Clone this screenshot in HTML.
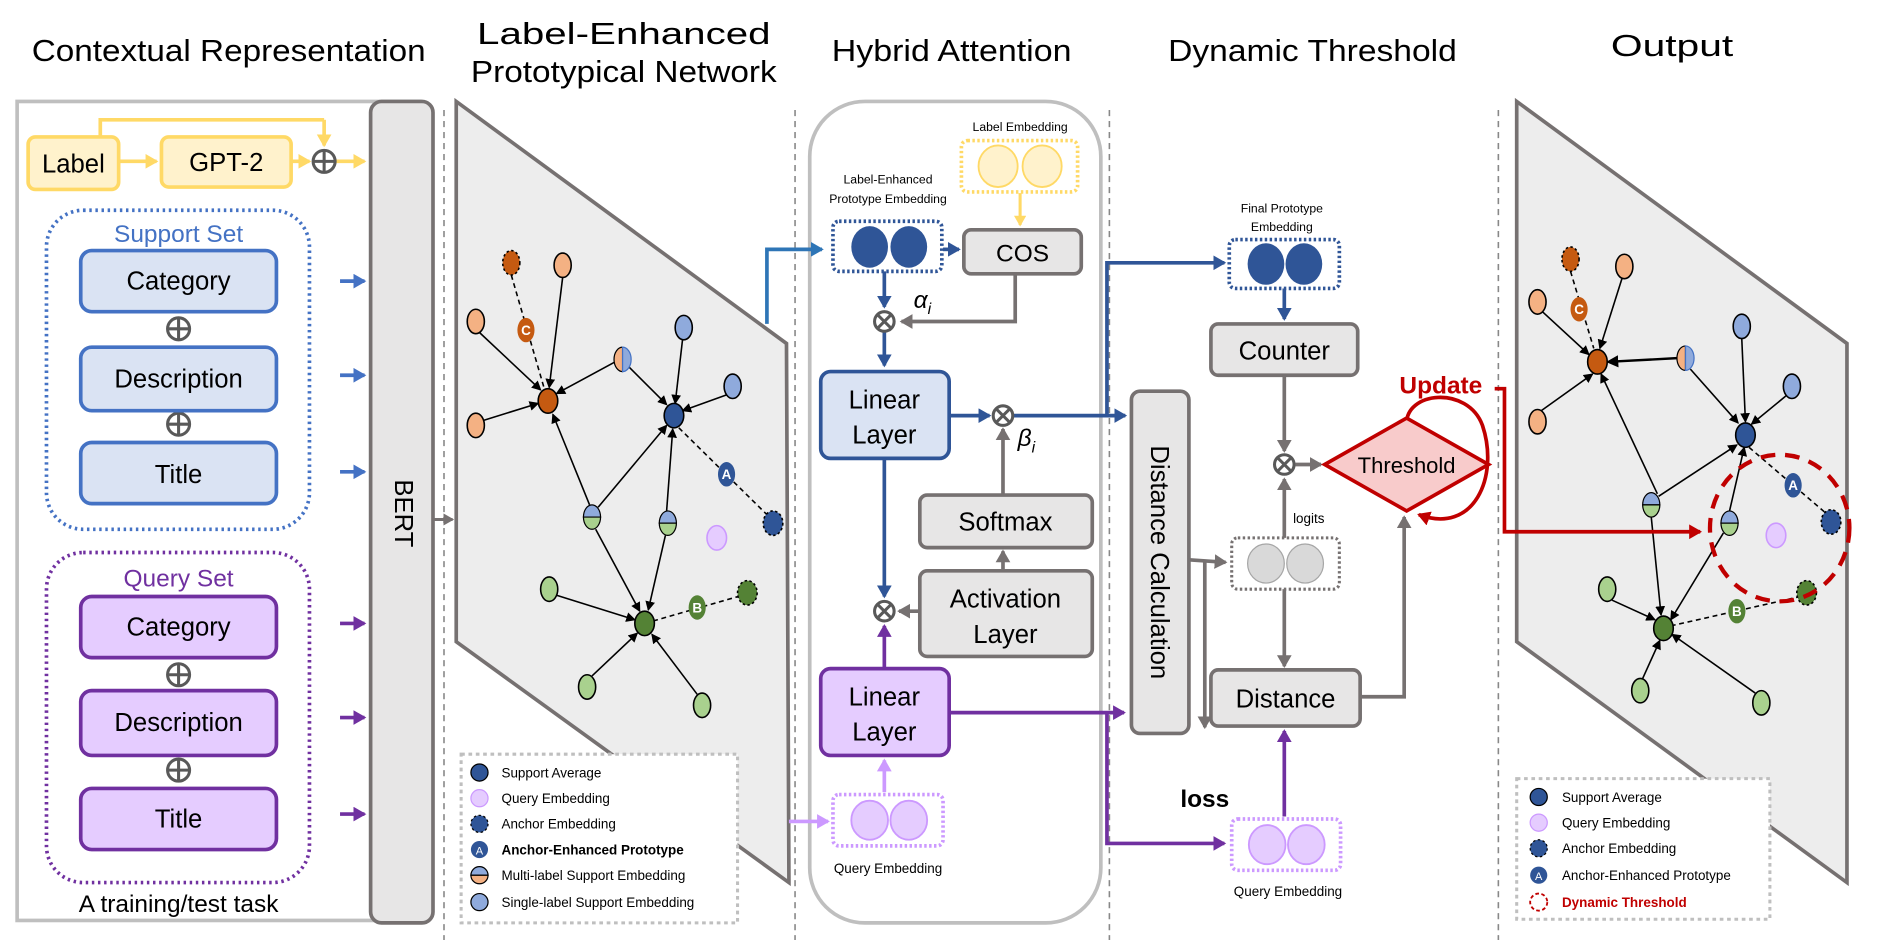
<!DOCTYPE html>
<html><head><meta charset="utf-8"><style>
html,body{margin:0;padding:0;background:#fff;width:1902px;height:940px;overflow:hidden}
svg{display:block}
text{font-family:"Liberation Sans",sans-serif}
</style></head><body>
<svg width="1902" height="940" viewBox="0 0 1555 769" preserveAspectRatio="none" xmlns="http://www.w3.org/2000/svg">
<defs>
<marker id="ab" markerWidth="5" markerHeight="5" refX="3" refY="2" orient="auto" markerUnits="strokeWidth"><path d="M0,0 L3.5,2 L0,4 z" fill="#2f5597"/></marker>
<marker id="ab2" markerWidth="5" markerHeight="5" refX="3" refY="2" orient="auto" markerUnits="strokeWidth"><path d="M0,0 L3.5,2 L0,4 z" fill="#4472c4"/></marker>
<marker id="ab3" markerWidth="5" markerHeight="5" refX="3" refY="2" orient="auto" markerUnits="strokeWidth"><path d="M0,0 L3.5,2 L0,4 z" fill="#2e75b6"/></marker>
<marker id="ag" markerWidth="5" markerHeight="5" refX="3" refY="2" orient="auto" markerUnits="strokeWidth"><path d="M0,0 L3.5,2 L0,4 z" fill="#767171"/></marker>
<marker id="ay" markerWidth="5" markerHeight="5" refX="3" refY="2" orient="auto" markerUnits="strokeWidth"><path d="M0,0 L3.5,2 L0,4 z" fill="#ffd966"/></marker>
<marker id="ap" markerWidth="5" markerHeight="5" refX="3" refY="2" orient="auto" markerUnits="strokeWidth"><path d="M0,0 L3.5,2 L0,4 z" fill="#7030a0"/></marker>
<marker id="alp" markerWidth="5" markerHeight="5" refX="3" refY="2" orient="auto" markerUnits="strokeWidth"><path d="M0,0 L3.5,2 L0,4 z" fill="#cc99ff"/></marker>
<marker id="ar" markerWidth="5" markerHeight="5" refX="3" refY="2" orient="auto" markerUnits="strokeWidth"><path d="M0,0 L3.5,2 L0,4 z" fill="#c00000"/></marker>
<marker id="ak" markerWidth="8" markerHeight="8" refX="7" refY="4" orient="auto" markerUnits="userSpaceOnUse"><path d="M0,0 L8,4 L0,8 z" fill="#000"/></marker>
<marker id="ak2" markerWidth="10" markerHeight="10" refX="8" refY="5" orient="auto" markerUnits="userSpaceOnUse"><path d="M0,0 L10,5 L0,10 z" fill="#000"/></marker>
</defs>

<g stroke="#888" stroke-width="1.3" stroke-dasharray="5,4">
<line x1="363" y1="90" x2="363" y2="769"/><line x1="650" y1="90" x2="650" y2="769"/>
<line x1="907" y1="90" x2="907" y2="769"/><line x1="1225" y1="90" x2="1225" y2="769"/>
</g>
<g font-size="25" text-anchor="middle" fill="#000">
<text x="187" y="50" textLength="322" lengthAdjust="spacingAndGlyphs">Contextual Representation</text>
<text x="510" y="36" textLength="240" lengthAdjust="spacingAndGlyphs">Label-Enhanced</text>
<text x="510" y="67" textLength="250" lengthAdjust="spacingAndGlyphs">Prototypical Network</text>
<text x="778" y="50" textLength="196" lengthAdjust="spacingAndGlyphs">Hybrid Attention</text>
<text x="1073" y="50" textLength="236" lengthAdjust="spacingAndGlyphs">Dynamic Threshold</text>
<text x="1367" y="46" textLength="100" lengthAdjust="spacingAndGlyphs">Output</text>
</g>

<rect x="14" y="83" width="329" height="670" fill="#fff" stroke="#bfbfbf" stroke-width="3"/>
<rect x="23" y="112" width="74" height="43" rx="6" fill="#fff2cc" stroke="#ffd966" stroke-width="3"/>
<text x="60" y="141" font-size="21" text-anchor="middle">Label</text>
<rect x="132" y="112" width="106" height="41" rx="6" fill="#fff2cc" stroke="#ffd966" stroke-width="3"/>
<text x="185" y="140" font-size="21" text-anchor="middle">GPT-2</text>
<line x1="97" y1="132" x2="128" y2="132" stroke="#ffd966" stroke-width="3" marker-end="url(#ay)"/>
<line x1="238" y1="132" x2="253" y2="132" stroke="#ffd966" stroke-width="3" marker-end="url(#ay)"/>
<polyline points="82,112 82,98 265,98" fill="none" stroke="#ffd966" stroke-width="3"/>
<line x1="265" y1="98" x2="265" y2="119" stroke="#ffd966" stroke-width="3" marker-end="url(#ay)"/>
<line x1="274" y1="132" x2="298" y2="132" stroke="#ffd966" stroke-width="3" marker-end="url(#ay)"/>

<g fill="none" stroke="#595959" stroke-width="2.5">
<circle cx="265" cy="132" r="9"/><line x1="256" y1="132" x2="274" y2="132"/><line x1="265" y1="123" x2="265" y2="141"/>
<circle cx="146" cy="269" r="9"/><line x1="137" y1="269" x2="155" y2="269"/><line x1="146" y1="260" x2="146" y2="278"/>
<circle cx="146" cy="347" r="9"/><line x1="137" y1="347" x2="155" y2="347"/><line x1="146" y1="338" x2="146" y2="356"/>
<circle cx="146" cy="552" r="9"/><line x1="137" y1="552" x2="155" y2="552"/><line x1="146" y1="543" x2="146" y2="561"/>
<circle cx="146" cy="630" r="9"/><line x1="137" y1="630" x2="155" y2="630"/><line x1="146" y1="621" x2="146" y2="639"/>
</g>

<rect x="38" y="172" width="215" height="261" rx="30" fill="none" stroke="#4472c4" stroke-width="3" stroke-dasharray="2,3"/>
<text x="146" y="198" font-size="20" fill="#4472c4" text-anchor="middle">Support Set</text>
<g fill="#dae3f3" stroke="#4472c4" stroke-width="3">
<rect x="66" y="205" width="160" height="50" rx="9"/><rect x="66" y="284" width="160" height="52" rx="9"/><rect x="66" y="362" width="160" height="50" rx="9"/>
</g>
<g font-size="21" text-anchor="middle">
<text x="146" y="237">Category</text><text x="146" y="317">Description</text><text x="146" y="395">Title</text>
</g>
<rect x="38" y="452" width="215" height="270" rx="30" fill="none" stroke="#7030a0" stroke-width="3" stroke-dasharray="2,3"/>
<text x="146" y="480" font-size="20" fill="#7030a0" text-anchor="middle">Query Set</text>
<g fill="#e5ccff" stroke="#7030a0" stroke-width="3">
<rect x="66" y="488" width="160" height="50" rx="9"/><rect x="66" y="565" width="160" height="53" rx="9"/><rect x="66" y="645" width="160" height="50" rx="9"/>
</g>
<g font-size="21" text-anchor="middle">
<text x="146" y="520">Category</text><text x="146" y="598">Description</text><text x="146" y="677">Title</text>
</g>
<text x="146" y="746" font-size="20" text-anchor="middle">A training/test task</text>
<g stroke-width="3">
<line x1="278" y1="230" x2="298" y2="230" stroke="#4472c4" marker-end="url(#ab2)"/>
<line x1="278" y1="307" x2="298" y2="307" stroke="#4472c4" marker-end="url(#ab2)"/>
<line x1="278" y1="386" x2="298" y2="386" stroke="#4472c4" marker-end="url(#ab2)"/>
<line x1="278" y1="510" x2="298" y2="510" stroke="#7030a0" marker-end="url(#ap)"/>
<line x1="278" y1="587" x2="298" y2="587" stroke="#7030a0" marker-end="url(#ap)"/>
<line x1="278" y1="666" x2="298" y2="666" stroke="#7030a0" marker-end="url(#ap)"/>
</g>

<rect x="303" y="83" width="51" height="672" rx="9" fill="#e7e6e6" stroke="#767171" stroke-width="3"/>
<text x="330" y="420" font-size="21" text-anchor="middle" transform="rotate(90 330 420)" dy="7">BERT</text>
<line x1="354" y1="425" x2="370" y2="425" stroke="#767171" stroke-width="2.5" marker-end="url(#ag)"/>

<polygon points="373,83 643,281 645,722 373,525" fill="#ededed" stroke="#767171" stroke-width="3"/>
<polygon points="1240,83 1510,281 1510,722 1240,525" fill="#ededed" stroke="#767171" stroke-width="3"/>

<g stroke="#000" stroke-width="1.3" fill="none">
<line x1="460" y1="227" x2="449" y2="317" marker-end="url(#ak)"/>
<line x1="392" y1="272" x2="442" y2="319" marker-end="url(#ak)"/>
<line x1="395" y1="344" x2="440" y2="330" marker-end="url(#ak)"/>
<line x1="418" y1="225" x2="445" y2="318" stroke-dasharray="4,3"/>
<line x1="503" y1="296" x2="455" y2="322" marker-end="url(#ak)"/>
<line x1="514" y1="300" x2="545" y2="331" marker-end="url(#ak)"/>
<line x1="558" y1="278" x2="552" y2="330" marker-end="url(#ak)"/>
<line x1="594" y1="323" x2="558" y2="336" marker-end="url(#ak)"/>
<line x1="555" y1="350" x2="628" y2="422" stroke-dasharray="4,3"/>
<line x1="482" y1="413" x2="452" y2="339" marker-end="url(#ak)"/>
<line x1="489" y1="415" x2="545" y2="348" marker-end="url(#ak)"/>
<line x1="487" y1="433" x2="523" y2="500" marker-end="url(#ak)"/>
<line x1="545" y1="418" x2="550" y2="351" marker-end="url(#ak)"/>
<line x1="544" y1="438" x2="530" y2="499" marker-end="url(#ak)"/>
<line x1="455" y1="487" x2="519" y2="507" marker-end="url(#ak)"/>
<line x1="484" y1="553" x2="521" y2="518" marker-end="url(#ak)"/>
<line x1="570" y1="568" x2="533" y2="519" marker-end="url(#ak)"/>
<line x1="534" y1="508" x2="607" y2="487" stroke-dasharray="4,3"/>
</g>
<g stroke="#000" stroke-width="1.3">
<ellipse cx="418" cy="215" rx="7" ry="10" fill="#c55a11" stroke-dasharray="2,2"/>
<ellipse cx="460" cy="217" rx="7" ry="10" fill="#f4b183"/>
<ellipse cx="389" cy="263" rx="7" ry="10" fill="#f4b183"/>
<ellipse cx="389" cy="348" rx="7" ry="10" fill="#f4b183"/>
<ellipse cx="448" cy="328" rx="8" ry="10" fill="#c55a11"/>
<ellipse cx="559" cy="268" rx="7" ry="10" fill="#8faadc"/>
<ellipse cx="599" cy="316" rx="7" ry="10" fill="#8faadc"/>
<ellipse cx="551" cy="340" rx="8" ry="10" fill="#2f5597"/>
<ellipse cx="632" cy="428" rx="8" ry="10" fill="#2f5597" stroke-dasharray="2,2"/>
<ellipse cx="586" cy="440" rx="8" ry="10" fill="#e5ccff" stroke="#cc99ff"/>
<ellipse cx="449" cy="482" rx="7" ry="10" fill="#a9d18e"/>
<ellipse cx="527" cy="510" rx="8" ry="10" fill="#548235"/>
<ellipse cx="611" cy="485" rx="8" ry="10" fill="#548235" stroke-dasharray="2,2"/>
<ellipse cx="480" cy="562" rx="7" ry="10" fill="#a9d18e"/>
<ellipse cx="574" cy="577" rx="7" ry="10" fill="#a9d18e"/>
</g>
<path d="M509,284 A7,10 0 0 0 509,304 Z" fill="#f4b183" stroke="#000"/><path d="M509,284 A7,10 0 0 1 509,304 Z" fill="#8faadc" stroke="#4472c4"/>
<path d="M477,423 A7,10 0 0 1 491,423 Z" fill="#8faadc" stroke="#000"/><path d="M477,423 A7,10 0 0 0 491,423 Z" fill="#a9d18e" stroke="#000"/>
<path d="M539,428 A7,10 0 0 1 553,428 Z" fill="#8faadc" stroke="#000"/><path d="M539,428 A7,10 0 0 0 553,428 Z" fill="#a9d18e" stroke="#000"/>
<g font-size="11" fill="#fff" text-anchor="middle" font-weight="bold">
<ellipse cx="430" cy="270" rx="7" ry="10" fill="#c55a11"/><text x="430" y="274">C</text>
<ellipse cx="594" cy="388" rx="7" ry="10" fill="#2f5597"/><text x="594" y="392">A</text>
<ellipse cx="570" cy="497" rx="7" ry="10" fill="#548235"/><text x="570" y="501">B</text>
</g>

<g stroke="#000" stroke-width="1.3" fill="none">
<line x1="1284" y1="222" x2="1303" y2="285" stroke-dasharray="4,3"/>
<line x1="1326" y1="228" x2="1308" y2="285" marker-end="url(#ak)"/>
<line x1="1261" y1="255" x2="1299" y2="290" marker-end="url(#ak)"/>
<line x1="1260" y1="336" x2="1302" y2="306" marker-end="url(#ak)"/>
<line x1="1371" y1="293" x2="1315" y2="296" marker-end="url(#ak2)" stroke-width="2"/>
<line x1="1382" y1="302" x2="1421" y2="346" marker-end="url(#ak)"/>
<line x1="1424" y1="277" x2="1427" y2="345" marker-end="url(#ak)"/>
<line x1="1460" y1="324" x2="1432" y2="347" marker-end="url(#ak)"/>
<line x1="1430" y1="366" x2="1493" y2="420" stroke-dasharray="4,3"/>
<line x1="1355" y1="404" x2="1309" y2="306" marker-end="url(#ak)"/>
<line x1="1356" y1="406" x2="1420" y2="364" marker-end="url(#ak)"/>
<line x1="1350" y1="423" x2="1358" y2="503" marker-end="url(#ak)"/>
<line x1="1414" y1="418" x2="1426" y2="366" marker-end="url(#ak)"/>
<line x1="1409" y1="436" x2="1366" y2="507" marker-end="url(#ak)"/>
<line x1="1318" y1="491" x2="1353" y2="507" marker-end="url(#ak)"/>
<line x1="1343" y1="555" x2="1357" y2="524" marker-end="url(#ak)"/>
<line x1="1435" y1="567" x2="1367" y2="519" marker-end="url(#ak)"/>
<line x1="1366" y1="512" x2="1472" y2="488" stroke-dasharray="4,3"/>
</g>
<g stroke="#000" stroke-width="1.3">
<ellipse cx="1284" cy="212" rx="7" ry="10" fill="#c55a11" stroke-dasharray="2,2"/>
<ellipse cx="1328" cy="218" rx="7" ry="10" fill="#f4b183"/>
<ellipse cx="1257" cy="247" rx="7" ry="10" fill="#f4b183"/>
<ellipse cx="1306" cy="296" rx="8" ry="10" fill="#c55a11"/>
<ellipse cx="1257" cy="345" rx="7" ry="10" fill="#f4b183"/>
<ellipse cx="1424" cy="267" rx="7" ry="10" fill="#8faadc"/>
<ellipse cx="1465" cy="316" rx="7" ry="10" fill="#8faadc"/>
<ellipse cx="1427" cy="356" rx="8" ry="10" fill="#2f5597"/>
<ellipse cx="1497" cy="427" rx="8" ry="10" fill="#2f5597" stroke-dasharray="2,2"/>
<ellipse cx="1452" cy="438" rx="8" ry="10" fill="#e5ccff" stroke="#cc99ff"/>
<ellipse cx="1314" cy="482" rx="7" ry="10" fill="#a9d18e"/>
<ellipse cx="1360" cy="514" rx="8" ry="10" fill="#548235"/>
<ellipse cx="1477" cy="485" rx="8" ry="10" fill="#548235" stroke-dasharray="2,2"/>
<ellipse cx="1341" cy="565" rx="7" ry="10" fill="#a9d18e"/>
<ellipse cx="1440" cy="575" rx="7" ry="10" fill="#a9d18e"/>
</g>
<path d="M1378,283 A7,10 0 0 0 1378,303 Z" fill="#f4b183" stroke="#000"/><path d="M1378,283 A7,10 0 0 1 1378,303 Z" fill="#8faadc" stroke="#4472c4"/>
<path d="M1343,413 A7,10 0 0 1 1357,413 Z" fill="#8faadc" stroke="#000"/><path d="M1343,413 A7,10 0 0 0 1357,413 Z" fill="#a9d18e" stroke="#000"/>
<path d="M1407,428 A7,10 0 0 1 1421,428 Z" fill="#8faadc" stroke="#000"/><path d="M1407,428 A7,10 0 0 0 1421,428 Z" fill="#a9d18e" stroke="#000"/>
<g font-size="11" fill="#fff" text-anchor="middle" font-weight="bold">
<ellipse cx="1291" cy="253" rx="7" ry="10" fill="#c55a11"/><text x="1291" y="257">C</text>
<ellipse cx="1466" cy="397" rx="7" ry="10" fill="#2f5597"/><text x="1466" y="401">A</text>
<ellipse cx="1420" cy="500" rx="7" ry="10" fill="#548235"/><text x="1420" y="504">B</text>
</g>
<ellipse cx="1455" cy="432" rx="57" ry="60" fill="none" stroke="#c00000" stroke-width="3.5" stroke-dasharray="12,8"/>

<rect x="377" y="617" width="226" height="138" fill="#fff" stroke="#bfbfbf" stroke-width="2.5" stroke-dasharray="3,3"/>
<g font-size="11">
<ellipse cx="392" cy="632" rx="7" ry="7" fill="#2f5597" stroke="#000"/><text x="410" y="636">Support Average</text>
<ellipse cx="392" cy="653" rx="7" ry="7" fill="#e5ccff" stroke="#cc99ff"/><text x="410" y="657">Query Embedding</text>
<ellipse cx="392" cy="674" rx="7" ry="7" fill="#2f5597" stroke="#000" stroke-dasharray="2,2"/><text x="410" y="678">Anchor Embedding</text>
<ellipse cx="392" cy="695" rx="7" ry="7" fill="#2f5597"/><text x="392" y="699" fill="#fff" text-anchor="middle" font-size="9">A</text><text x="410" y="699" font-weight="bold">Anchor-Enhanced Prototype</text>
<path d="M385,716 A7,7 0 0 1 399,716 Z" fill="#8faadc" stroke="#000"/><path d="M385,716 A7,7 0 0 0 399,716 Z" fill="#f4b183" stroke="#000"/><text x="410" y="720">Multi-label Support Embedding</text>
<ellipse cx="392" cy="738" rx="7" ry="7" fill="#8faadc" stroke="#000"/><text x="410" y="742">Single-label Support Embedding</text>
</g>
<rect x="1240" y="637" width="207" height="115" fill="#fff" stroke="#bfbfbf" stroke-width="2.5" stroke-dasharray="3,3"/>
<g font-size="11">
<ellipse cx="1258" cy="652" rx="7" ry="7" fill="#2f5597" stroke="#000"/><text x="1277" y="656">Support Average</text>
<ellipse cx="1258" cy="673" rx="7" ry="7" fill="#e5ccff" stroke="#cc99ff"/><text x="1277" y="677">Query Embedding</text>
<ellipse cx="1258" cy="694" rx="7" ry="7" fill="#2f5597" stroke="#000" stroke-dasharray="2,2"/><text x="1277" y="698">Anchor Embedding</text>
<ellipse cx="1258" cy="716" rx="7" ry="7" fill="#2f5597"/><text x="1258" y="720" fill="#fff" text-anchor="middle" font-size="9">A</text><text x="1277" y="720">Anchor-Enhanced Prototype</text>
<ellipse cx="1258" cy="738" rx="7" ry="7" fill="none" stroke="#c00000" stroke-width="1.5" stroke-dasharray="3,2"/><text x="1277" y="742" fill="#c00000" font-weight="bold">Dynamic Threshold</text>
</g>

<rect x="662" y="83" width="238" height="672" rx="45" fill="none" stroke="#bfbfbf" stroke-width="3"/>
<text x="834" y="107" font-size="10" text-anchor="middle">Label Embedding</text>
<rect x="786" y="115" width="95" height="42" rx="5" fill="none" stroke="#ffd966" stroke-width="3" stroke-dasharray="2,2"/>
<ellipse cx="816" cy="136" rx="16" ry="17" fill="#fff2cc" stroke="#ffd966" stroke-width="1.5"/>
<ellipse cx="852" cy="136" rx="16" ry="17" fill="#fff2cc" stroke="#ffd966" stroke-width="1.5"/>
<line x1="834" y1="158" x2="834" y2="184" stroke="#ffd966" stroke-width="2.5" marker-end="url(#ay)"/>
<rect x="788" y="188" width="96" height="36" rx="6" fill="#e7e6e6" stroke="#767171" stroke-width="3"/>
<text x="836" y="214" font-size="20" text-anchor="middle">COS</text>
<text x="726" y="150" font-size="10" text-anchor="middle">Label-Enhanced</text>
<text x="726" y="166" font-size="10" text-anchor="middle">Prototype Embedding</text>
<rect x="681" y="181" width="89" height="41" rx="5" fill="none" stroke="#2f5597" stroke-width="3" stroke-dasharray="2,2"/>
<ellipse cx="711" cy="202" rx="15" ry="17" fill="#2f5597"/><ellipse cx="743" cy="202" rx="15" ry="17" fill="#2f5597"/>
<line x1="771" y1="204" x2="784" y2="204" stroke="#2f5597" stroke-width="3" marker-end="url(#ab)"/>
<polyline points="627,265 627,204 672,204" fill="none" stroke="#2e75b6" stroke-width="3" marker-end="url(#ab3)"/>
<line x1="723" y1="222" x2="723" y2="251" stroke="#2f5597" stroke-width="3" marker-end="url(#ab)"/>
<polyline points="830,224 830,263 737,263" fill="none" stroke="#767171" stroke-width="3" marker-end="url(#ag)"/>
<text x="747" y="252" font-size="20" font-style="italic" font-family="Liberation Serif">α<tspan font-size="13" dy="5">i</tspan></text>
<line x1="723" y1="272" x2="723" y2="299" stroke="#2f5597" stroke-width="3" marker-end="url(#ab)"/>
<rect x="671" y="304" width="105" height="71" rx="8" fill="#dae3f3" stroke="#2f5597" stroke-width="3"/>
<text x="723" y="334" font-size="21" text-anchor="middle">Linear</text><text x="723" y="363" font-size="21" text-anchor="middle">Layer</text>
<line x1="776" y1="340" x2="809" y2="340" stroke="#2f5597" stroke-width="3" marker-end="url(#ab)"/>
<polyline points="829,340 920,340" fill="none" stroke="#2f5597" stroke-width="3" marker-end="url(#ab)"/>
<polyline points="905,340 905,215 1001,215" fill="none" stroke="#2f5597" stroke-width="3" marker-end="url(#ab)"/>
<text x="832" y="365" font-size="20" font-style="italic" font-family="Liberation Serif">β<tspan font-size="13" dy="5">i</tspan></text>
<line x1="820" y1="405" x2="820" y2="351" stroke="#767171" stroke-width="3" marker-end="url(#ag)"/>
<rect x="752" y="405" width="141" height="43" rx="6" fill="#e7e6e6" stroke="#767171" stroke-width="3"/>
<text x="822" y="434" font-size="21" text-anchor="middle">Softmax</text>
<line x1="820" y1="467" x2="820" y2="451" stroke="#767171" stroke-width="3" marker-end="url(#ag)"/>
<rect x="752" y="467" width="141" height="70" rx="6" fill="#e7e6e6" stroke="#767171" stroke-width="3"/>
<text x="822" y="497" font-size="21" text-anchor="middle">Activation</text><text x="822" y="526" font-size="21" text-anchor="middle">Layer</text>
<line x1="723" y1="375" x2="723" y2="488" stroke="#2f5597" stroke-width="3" marker-end="url(#ab)"/>
<line x1="752" y1="500" x2="735" y2="500" stroke="#767171" stroke-width="3" marker-end="url(#ag)"/>
<line x1="723" y1="547" x2="723" y2="512" stroke="#7030a0" stroke-width="3" marker-end="url(#ap)"/>
<rect x="671" y="547" width="105" height="71" rx="8" fill="#e5ccff" stroke="#7030a0" stroke-width="3"/>
<text x="723" y="577" font-size="21" text-anchor="middle">Linear</text><text x="723" y="606" font-size="21" text-anchor="middle">Layer</text>
<polyline points="776,583 919,583" fill="none" stroke="#7030a0" stroke-width="3" marker-end="url(#ap)"/>
<polyline points="905,583 905,690 1001,690" fill="none" stroke="#7030a0" stroke-width="3" marker-end="url(#ap)"/>
<line x1="723" y1="648" x2="723" y2="622" stroke="#cc99ff" stroke-width="3" marker-end="url(#alp)"/>
<rect x="681" y="650" width="90" height="42" rx="5" fill="none" stroke="#cc99ff" stroke-width="3" stroke-dasharray="2,2"/>
<ellipse cx="711" cy="671" rx="15" ry="16" fill="#e5ccff" stroke="#cc99ff" stroke-width="1.5"/><ellipse cx="743" cy="671" rx="15" ry="16" fill="#e5ccff" stroke="#cc99ff" stroke-width="1.5"/>
<line x1="645" y1="672" x2="677" y2="672" stroke="#cc99ff" stroke-width="3" marker-end="url(#alp)"/>
<text x="726" y="714" font-size="11" text-anchor="middle">Query Embedding</text>

<g fill="#fff" stroke="#595959" stroke-width="2.5">
<circle cx="723" cy="263" r="8"/><line x1="717" y1="257" x2="729" y2="269"/><line x1="729" y1="257" x2="717" y2="269"/>
<circle cx="820" cy="340" r="8"/><line x1="814" y1="334" x2="826" y2="346"/><line x1="826" y1="334" x2="814" y2="346"/>
<circle cx="723" cy="500" r="8"/><line x1="717" y1="494" x2="729" y2="506"/><line x1="729" y1="494" x2="717" y2="506"/>
<circle cx="1050" cy="380" r="8"/><line x1="1044" y1="374" x2="1056" y2="386"/><line x1="1056" y1="374" x2="1044" y2="386"/>
</g>

<text x="1048" y="174" font-size="10" text-anchor="middle">Final Prototype</text>
<text x="1048" y="189" font-size="10" text-anchor="middle">Embedding</text>
<rect x="1005" y="196" width="90" height="40" rx="5" fill="none" stroke="#2f5597" stroke-width="3" stroke-dasharray="2,2"/>
<ellipse cx="1035" cy="216" rx="15" ry="17" fill="#2f5597"/><ellipse cx="1066" cy="216" rx="15" ry="17" fill="#2f5597"/>
<line x1="1050" y1="236" x2="1050" y2="261" stroke="#2f5597" stroke-width="3" marker-end="url(#ab)"/>
<rect x="990" y="265" width="120" height="42" rx="6" fill="#e7e6e6" stroke="#767171" stroke-width="3"/>
<text x="1050" y="294" font-size="21" text-anchor="middle">Counter</text>
<line x1="1050" y1="307" x2="1050" y2="369" stroke="#767171" stroke-width="3" marker-end="url(#ag)"/>
<line x1="1059" y1="380" x2="1080" y2="380" stroke="#767171" stroke-width="3" marker-end="url(#ag)"/>
<path d="M1150,348 C1148,320 1200,315 1212,348 C1226,390 1205,438 1160,421" fill="none" stroke="#c00000" stroke-width="3" marker-end="url(#ar)"/>
<polygon points="1083,380 1150,342 1217,380 1150,418" fill="#f8cbcb" stroke="#c00000" stroke-width="3"/>
<text x="1150" y="387" font-size="18" text-anchor="middle">Threshold</text>
<text x="1178" y="322" font-size="20" font-weight="bold" fill="#c00000" text-anchor="middle">Update</text>
<polyline points="1222,318 1230,318 1230,435 1390,435" fill="none" stroke="#c00000" stroke-width="3" marker-end="url(#ar)"/>
<rect x="925" y="320" width="47" height="280" rx="7" fill="#e7e6e6" stroke="#767171" stroke-width="3"/>
<text x="948" y="460" font-size="21" text-anchor="middle" transform="rotate(90 948 460)" dy="7">Distance Calculation</text>
<line x1="972" y1="458" x2="1002" y2="460" stroke="#767171" stroke-width="3" marker-end="url(#ag)"/>
<line x1="985" y1="458" x2="985" y2="595" stroke="#767171" stroke-width="3" marker-end="url(#ag)"/>
<text x="985" y="660" font-size="20" font-weight="bold" text-anchor="middle">loss</text>
<rect x="1007" y="440" width="88" height="42" rx="5" fill="none" stroke="#767171" stroke-width="2.5" stroke-dasharray="2,2"/>
<ellipse cx="1035" cy="461" rx="15" ry="16" fill="#d9d9d9" stroke="#a6a6a6"/><ellipse cx="1067" cy="461" rx="15" ry="16" fill="#d9d9d9" stroke="#a6a6a6"/>
<text x="1070" y="428" font-size="11" text-anchor="middle">logits</text>
<line x1="1050" y1="440" x2="1050" y2="392" stroke="#767171" stroke-width="3" marker-end="url(#ag)"/>
<line x1="1050" y1="482" x2="1050" y2="545" stroke="#767171" stroke-width="3" marker-end="url(#ag)"/>
<rect x="990" y="548" width="122" height="46" rx="6" fill="#e7e6e6" stroke="#767171" stroke-width="3"/>
<text x="1051" y="579" font-size="21" text-anchor="middle">Distance</text>
<polyline points="1112,570 1148,570 1148,423" fill="none" stroke="#767171" stroke-width="3" marker-end="url(#ag)"/>
<line x1="1050" y1="668" x2="1050" y2="598" stroke="#7030a0" stroke-width="3" marker-end="url(#ap)"/>
<rect x="1007" y="670" width="89" height="42" rx="5" fill="none" stroke="#cc99ff" stroke-width="3" stroke-dasharray="2,2"/>
<ellipse cx="1036" cy="691" rx="15" ry="16" fill="#e5ccff" stroke="#cc99ff" stroke-width="1.5"/><ellipse cx="1068" cy="691" rx="15" ry="16" fill="#e5ccff" stroke="#cc99ff" stroke-width="1.5"/>
<text x="1053" y="733" font-size="11" text-anchor="middle">Query Embedding</text>
</svg>
</body></html>
